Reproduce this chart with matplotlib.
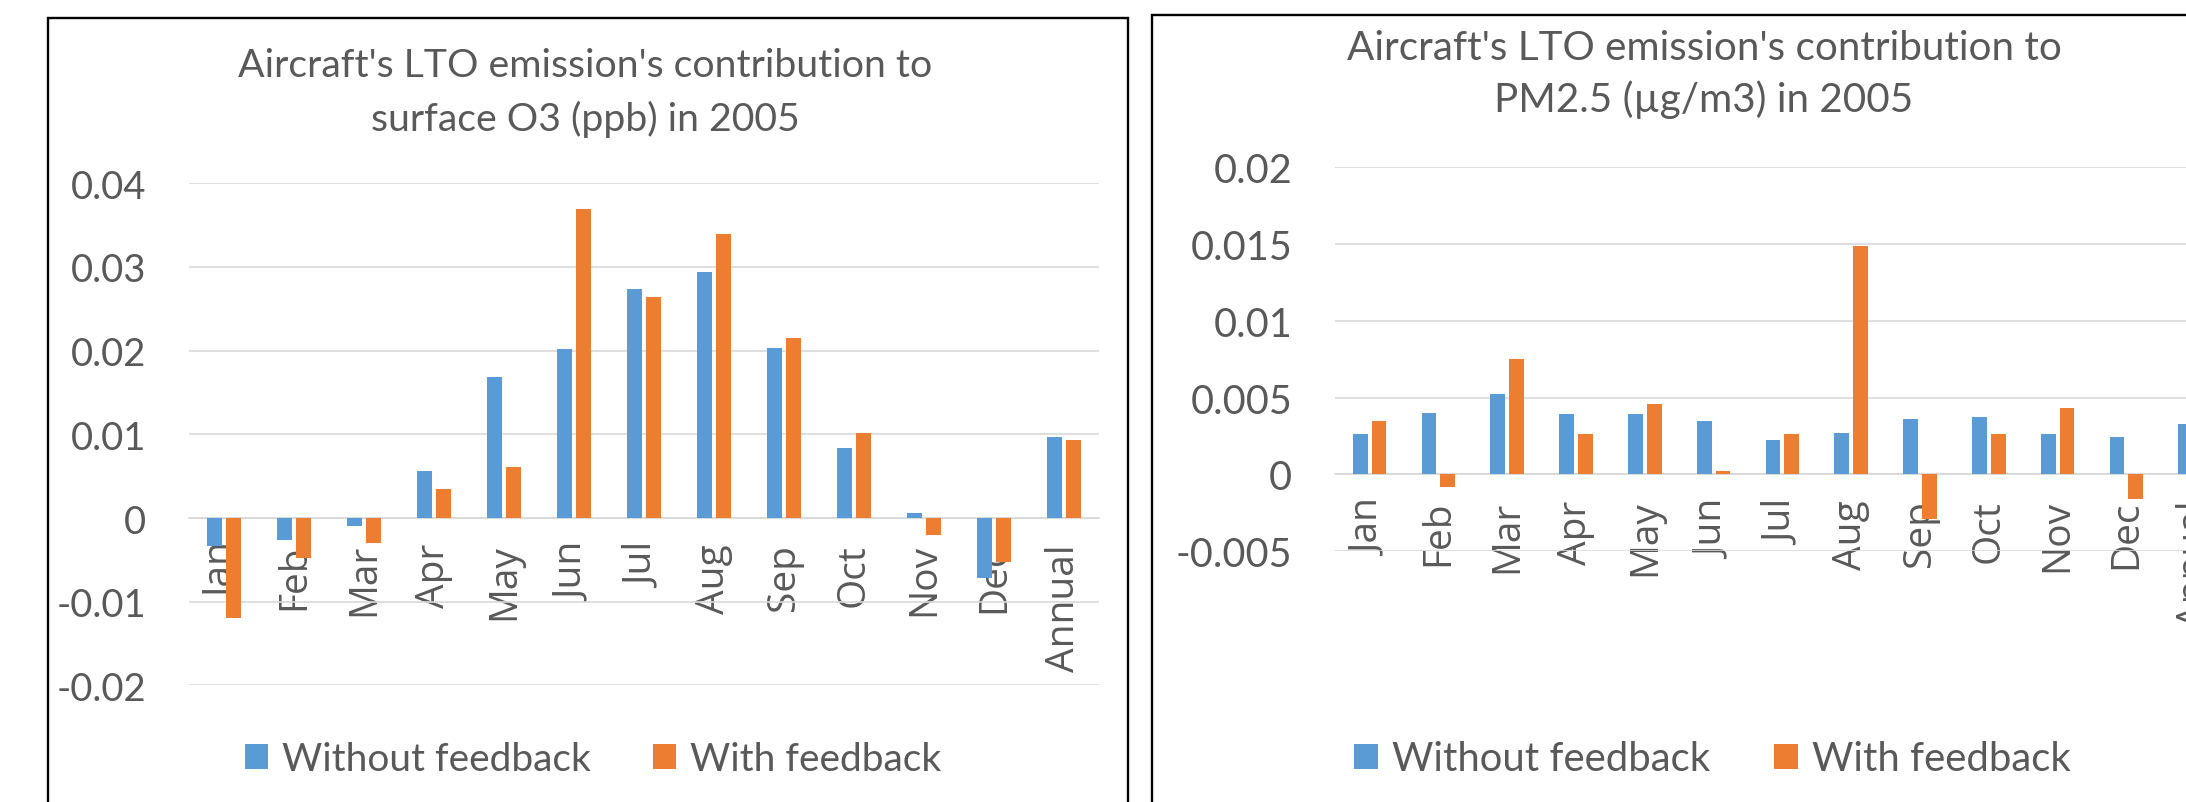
# -*- coding: utf-8 -*-
"""
Aircraft LTO emission contributions to surface O3 and PM2.5 in 2005,
with and without feedback. Two Excel-style clustered bar charts side by side.
"""
import matplotlib
matplotlib.use("Agg")
import matplotlib.pyplot as plt
from matplotlib.patches import Rectangle

months = ['Jan', 'Feb', 'Mar', 'Apr', 'May', 'Jun', 'Jul', 'Aug', 'Sep',
          'Oct', 'Nov', 'Dec', 'Annual']

o3_without = [-0.0034, -0.0026, -0.0009, 0.0056, 0.0169, 0.0202, 0.0274,
              0.0294, 0.0203, 0.0084, 0.0006, -0.0072, 0.0097]
o3_with = [-0.0119, -0.0048, -0.0030, 0.0035, 0.0061, 0.0369, 0.0264,
           0.0340, 0.0215, 0.0102, -0.0020, -0.0053, 0.0093]

pm_without = [0.0026, 0.0040, 0.0052, 0.0039, 0.0039, 0.0035, 0.0022,
              0.0027, 0.0036, 0.0037, 0.0026, 0.0024, 0.0033]
pm_with = [0.0035, -0.0008, 0.0075, 0.0026, 0.0046, 0.0002, 0.0026,
           0.0149, -0.0029, 0.0026, 0.0043, -0.0016, 0.0031]

o3_ticks = [-0.02, -0.01, 0, 0.01, 0.02, 0.03, 0.04]
o3_ticklabels = ['-0.02', '-0.01', '0', '0.01', '0.02', '0.03', '0.04']
pm_ticks = [-0.005, 0, 0.005, 0.01, 0.015, 0.02]
pm_ticklabels = ['-0.005', '0', '0.005', '0.01', '0.015', '0.02']

series_names = ['Without feedback', 'With feedback']

BLUE = '#5B9BD5'
ORANGE = '#ED7D31'
GRID = '#D9D9D9'
TEXT = '#595959'
UI_FONT = ['Lato', 'DejaVu Sans']
LABEL_FONT = ['Open Sans', 'DejaVu Sans']

W, H = 2186, 803


def fx(px):
    return px / W


def fy(py):
    return 1 - py / H


def draw_panel(fig, box, frame, titles, title_x, title_ys, title_size,
               without, with_fb, ticks, ticklabels, tick_size,
               legend_xy, legend_size):
    # Chart frame (black border like an embedded Excel chart)
    x0, x1, y0 = frame
    fig.add_artist(Rectangle((fx(x0), -0.1), (x1 - x0) / W, fy(y0) + 0.1,
                             transform=fig.transFigure, fill=False,
                             edgecolor='black', linewidth=1.7))

    left, top, right, bottom = box
    ax = fig.add_axes([fx(left), fy(bottom), (right - left) / W,
                       (bottom - top) / H])

    x = list(range(len(months)))
    bw = 0.215
    off = 0.1355
    b1 = ax.bar([i - off for i in x], without, width=bw, color=BLUE,
                label=series_names[0], zorder=3)
    b2 = ax.bar([i + off for i in x], with_fb, width=bw, color=ORANGE,
                label=series_names[1], zorder=3)

    ax.set_xlim(-0.5, len(months) - 0.5)
    ax.set_ylim(ticks[0], ticks[-1])
    ax.set_yticks(ticks)
    ax.set_yticklabels(ticklabels, family=UI_FONT, fontsize=tick_size,
                       color=TEXT)
    ax.yaxis.grid(True, color=GRID, linewidth=1.2, zorder=0)
    ax.tick_params(axis='y', length=0, pad=31)

    # Category labels sit on the zero line, rotated
    ax.spines['bottom'].set_position(('data', 0))
    ax.spines['bottom'].set_color(GRID)
    ax.spines['bottom'].set_linewidth(1.2)
    for s in ['left', 'right', 'top']:
        ax.spines[s].set_visible(False)
    ax.set_xticks(x)
    ax.set_xticklabels(months, rotation=90, family=LABEL_FONT, fontsize=28,
                       color=TEXT, va='top')
    ax.tick_params(axis='x', length=0, pad=18)

    # Two title lines placed separately to match the line spacing
    for line, ty in zip(titles, title_ys):
        fig.text(fx(title_x), fy(ty), line, ha='center', va='center',
                 family=UI_FONT, fontsize=title_size, color=TEXT)

    fig.legend(handles=[b1, b2], loc='center',
               bbox_to_anchor=(fx(legend_xy[0]), fy(legend_xy[1])),
               ncol=2, frameon=False, prop={'family': UI_FONT,
                                            'size': legend_size},
               labelcolor=TEXT, handlelength=0.6, handleheight=0.6,
               handletextpad=0.35, columnspacing=1.6)
    return ax


fig = plt.figure(figsize=(W / 100, H / 100), dpi=100)

# Left chart: surface O3
draw_panel(fig, (189, 184.3, 1099, 686.4), (48, 1128, 18.5),
           ["Aircraft's LTO emission's contribution to",
            "surface O3 (ppb) in 2005"], 585, (66, 119), 28.3,
           o3_without, o3_with, o3_ticks, o3_ticklabels, 27.5,
           (593, 760), 28)

# Right chart: PM2.5 (runs off the right edge of the picture)
draw_panel(fig, (1335.2, 168.3, 2229.6, 552), (1152.3, 2400, 15.7),
           ["Aircraft's LTO emission's contribution to",
            "PM2.5 (\u00b5g/m3) in 2005"], 1704, (48, 100), 29.1,
           pm_without, pm_with, pm_ticks, pm_ticklabels, 28.5,
           (1712, 760), 28.8)

fig.savefig('out.png', dpi=100)
